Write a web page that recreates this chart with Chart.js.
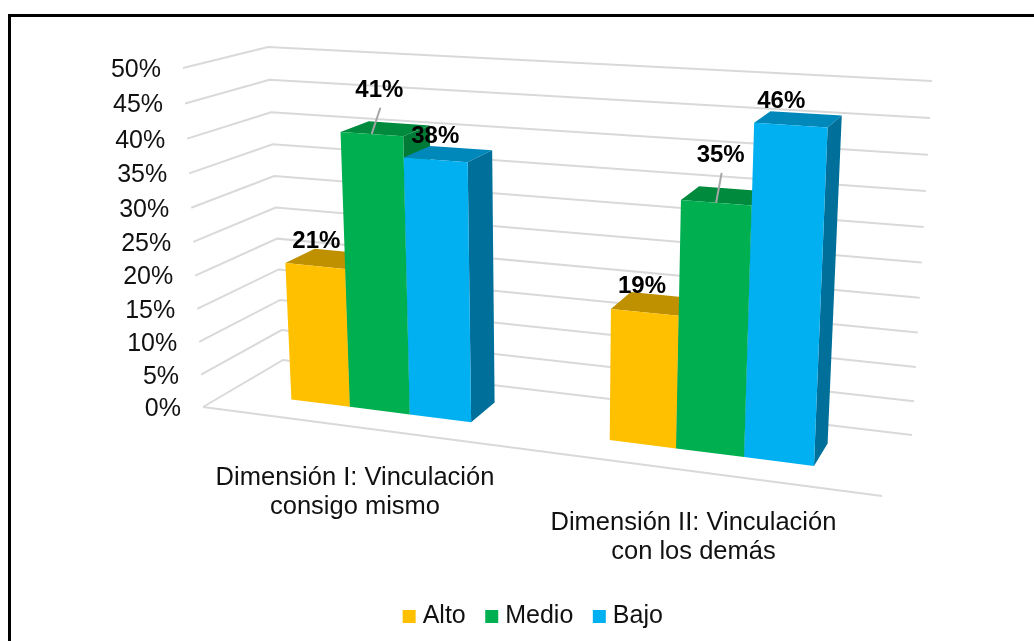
<!DOCTYPE html>
<html>
<head>
<meta charset="utf-8">
<script src="https://cdn.jsdelivr.net/npm/chart.js@4"></script>
<style>
  html, body { margin: 0; padding: 0; background: #fff; overflow: hidden; }
  #frame { position: absolute; left: 8px; top: 14px; width: 1060px; height: 660px; border: 3px solid #000; }
  #chart { position: absolute; left: 0; top: 0; }
</style>
</head>
<body>
<div id="frame"></div>
<canvas id="chart" width="1034" height="641"></canvas>
<script>
  // ===== Data =====
  const categories = [
    ["Dimensión I: Vinculación", "consigo mismo"],
    ["Dimensión II: Vinculación", "con los demás"]
  ];
  const alto = [21, 19];
  const medio = [41, 35];
  const bajo = [38, 46];
  const valueMax = 50;
  const valueStep = 5;

  // ===== 3D box corners on the page (front/back, left/right, bottom/top) =====
  const FLB = [203, 407], FRB = [882, 496], BLB = [283, 360], BRB = [912, 435];
  const FLT = [183, 68], FRT = [901, 111], BLT = [268, 47], BRT = [932, 81];
  const perspectiveU = -0.12;
  const perspectiveV = -0.05;
  const barFront = 0.33, barBack = 0.71;
  const gridColor = "#d9d9d9";
  const fontName = '"Liberation Sans", Arial, sans-serif';

  // label shift from the middle of each bar's top face, [category][series]
  const labelShift = [
    [[-13, -17], [-6, -38], [-13, -18]],
    [[-12, -17], [-4, -40], [-17, -18]]
  ];

  function lerp(a, b, t) {
    return [a[0] + (b[0] - a[0]) * t, a[1] + (b[1] - a[1]) * t];
  }

  // u: along categories, v: along values, w: depth, all 0..1
  function project(u, v, w) {
    let p = (1 + perspectiveU) * u / (1 + perspectiveU * u);
    let q = (1 + perspectiveV) * v / (1 + perspectiveV * v);
    let bottom = lerp(lerp(FLB, FRB, p), lerp(BLB, BRB, p), w);
    let top = lerp(lerp(FLT, FRT, p), lerp(BLT, BRT, p), w);
    return lerp(bottom, top, q);
  }

  function poly(ctx, pts, color) {
    ctx.beginPath();
    pts.forEach((p, i) => i ? ctx.lineTo(p[0], p[1]) : ctx.moveTo(p[0], p[1]));
    ctx.closePath();
    ctx.fillStyle = color;
    ctx.fill();
  }

  function line(ctx, pts, color, width) {
    ctx.beginPath();
    pts.forEach((p, i) => i ? ctx.lineTo(p[0], p[1]) : ctx.moveTo(p[0], p[1]));
    ctx.strokeStyle = color;
    ctx.lineWidth = width;
    ctx.stroke();
  }

  const box3d = {
    id: "box3d",
    beforeDatasetsDraw(chart) {
      const ctx = chart.ctx;
      const area = chart.chartArea;
      const yScale = chart.scales.y;
      const xScale = chart.scales.x;
      const toU = x => (x - area.left) / area.width;
      const toV = y => (area.bottom - y) / area.height;

      ctx.save();

      // walls + floor grid
      yScale.ticks.forEach(t => {
        let v = toV(yScale.getPixelForValue(t.value));
        line(ctx, [project(0, v, 0), project(0, v, 1), project(1, v, 1)], gridColor, 2);
      });
      line(ctx, [project(0, 0, 0), project(1, 0, 0)], gridColor, 2);

      // value labels along the left wall
      ctx.fillStyle = "#111";
      ctx.font = "25px " + fontName;
      ctx.textAlign = "right";
      ctx.textBaseline = "middle";
      yScale.ticks.forEach(t => {
        let v = toV(yScale.getPixelForValue(t.value));
        let p = project(0, v, 0);
        ctx.fillText(t.value + "%", p[0] - 22, p[1] + 2);
      });

      // category labels under the floor
      ctx.textAlign = "center";
      ctx.font = "25.5px " + fontName;
      chart.data.labels.forEach((lab, i) => {
        let p = project(toU(xScale.getPixelForValue(i)), 0, 0);
        lab.forEach((txt, n) => ctx.fillText(txt, p[0] - 2, p[1] + 51 + n * 29));
      });

      // bars, left to right so each one covers the side of the one before
      chart.data.labels.forEach((lab, i) => {
        chart.data.datasets.forEach((ds, d) => {
          let el = chart.getDatasetMeta(d).data[i];
          let u0 = toU(el.x - el.width / 2), u1 = toU(el.x + el.width / 2);
          let v0 = toV(el.base), v1 = toV(el.y);
          poly(ctx, [project(u0, v1, barFront), project(u1, v1, barFront), project(u1, v1, barBack), project(u0, v1, barBack)], ds.topColor);
          poly(ctx, [project(u1, v0, barFront), project(u1, v1, barFront), project(u1, v1, barBack), project(u1, v0, barBack)], ds.sideColor);
          poly(ctx, [project(u0, v0, barFront), project(u1, v0, barFront), project(u1, v1, barFront), project(u0, v1, barFront)], ds.backgroundColor);
        });
      });

      // data labels on top of everything
      ctx.font = "bold 24px " + fontName;
      chart.data.labels.forEach((lab, i) => {
        chart.data.datasets.forEach((ds, d) => {
          let el = chart.getDatasetMeta(d).data[i];
          let um = toU(el.x), v = toV(el.y);
          let mid = project(um, v, (barFront + barBack) / 2);
          let shift = labelShift[i][d];
          let lx = mid[0] + shift[0], ly = mid[1] + shift[1];
          if (shift[1] < -30) {
            line(ctx, [[lx + 1, ly + 17], project(um, v, barFront)], "#a6a6a6", 2);
          }
          ctx.fillStyle = "#000";
          ctx.fillText(ds.data[i] + "%", lx, ly);
        });
      });

      ctx.restore();
      return false; // the native flat bars are replaced by the boxes above
    }
  };

  new Chart(document.getElementById("chart"), {
    type: "bar",
    data: {
      labels: categories,
      datasets: [
        { label: "Alto", data: alto, backgroundColor: "#ffc000", topColor: "#bf9000", sideColor: "#bf9000" },
        { label: "Medio", data: medio, backgroundColor: "#00b050", topColor: "#008a3e", sideColor: "#007a37" },
        { label: "Bajo", data: bajo, backgroundColor: "#00b0f0", topColor: "#0088ba", sideColor: "#00709a" }
      ]
    },
    options: {
      responsive: false,
      animation: false,
      categoryPercentage: 0.58,
      barPercentage: 1,
      layout: { padding: { left: 189, right: 152, top: 60, bottom: 2 } },
      scales: {
        x: { display: false },
        y: { display: false, min: 0, max: valueMax, ticks: { stepSize: valueStep } }
      },
      plugins: {
        tooltip: { enabled: false },
        legend: {
          position: "bottom",
          labels: {
            usePointStyle: true, pointStyle: "rect", boxWidth: 2, boxHeight: 13, padding: 25,
            color: "#111", font: { size: 25, family: fontName }
          }
        }
      }
    },
    plugins: [box3d]
  });
</script>
</body>
</html>
